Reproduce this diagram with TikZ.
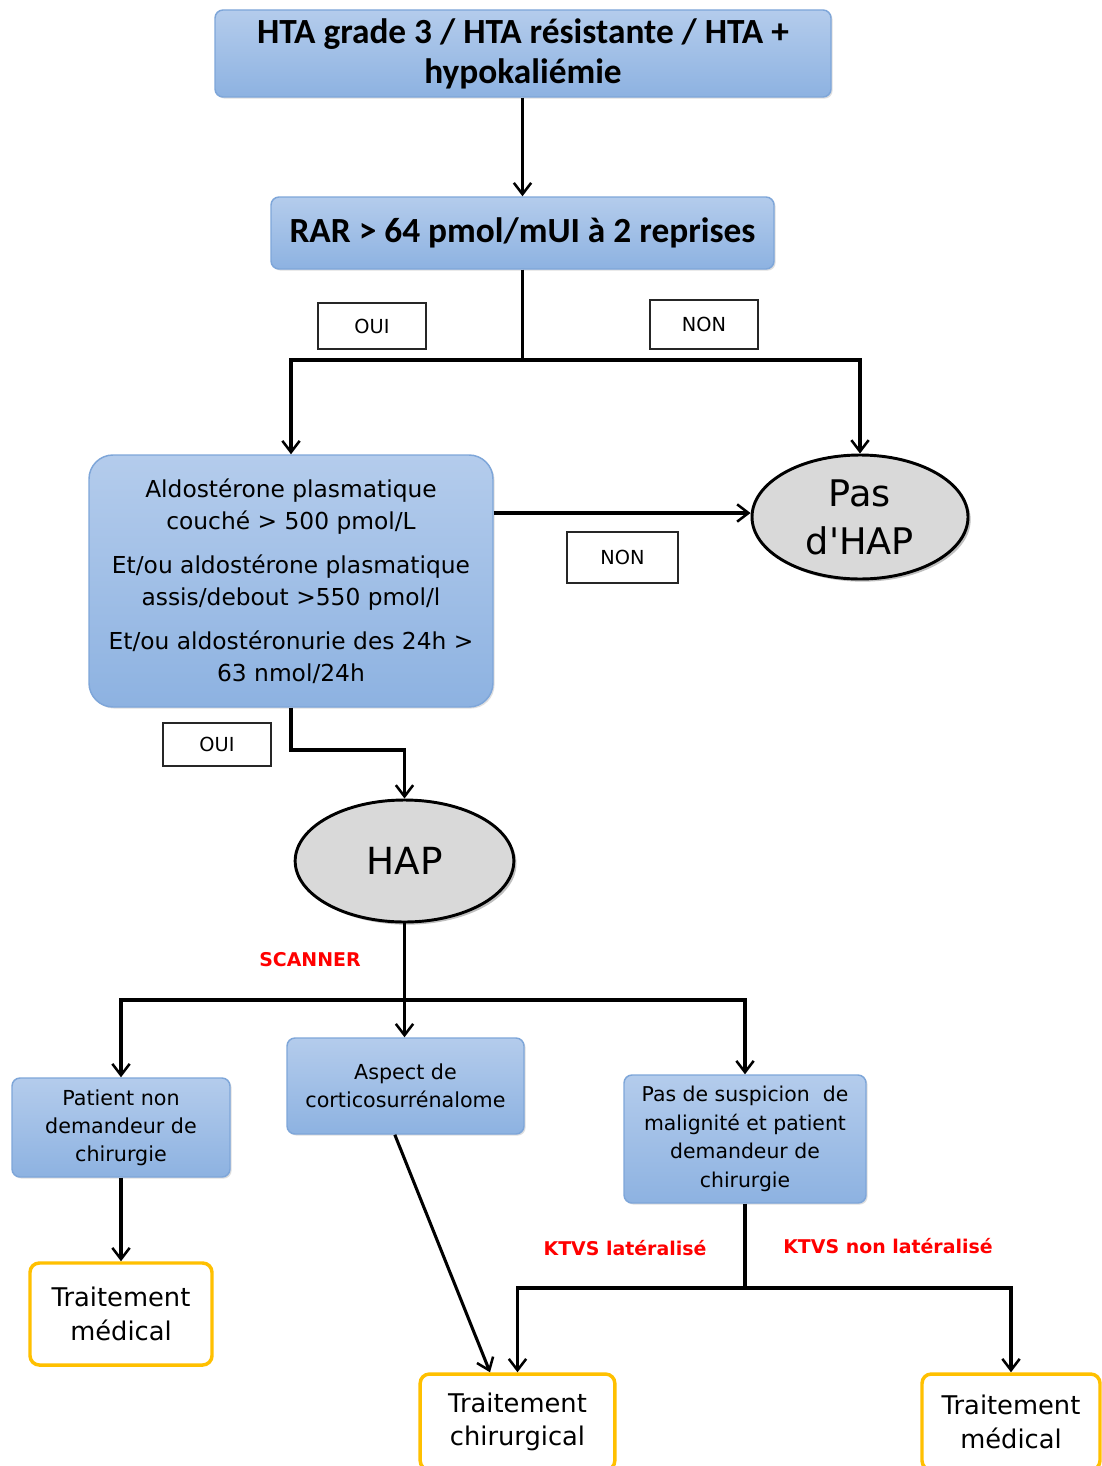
\documentclass[tikz,border=0pt]{standalone}
\usepackage{fontspec}
\setmainfont{DejaVu Sans}
\newfontfamily\calfont{Carlito}
\usetikzlibrary{arrows.meta,shapes.geometric,shadows}
\definecolor{bluetop}{HTML}{B4CCEC}
\definecolor{bluebot}{HTML}{8DB2E1}
\definecolor{blueedge}{HTML}{7EA6D9}
\definecolor{gold}{HTML}{FFC000}
\definecolor{ellgray}{HTML}{D9D9D9}
\tikzset{
  bluebox/.style={rectangle, rounded corners=6pt, draw=blueedge, line width=1.1pt,
    top color=bluetop, bottom color=bluebot, align=center, inner sep=2pt,
    drop shadow={shadow xshift=1.2pt, shadow yshift=-1.2pt, opacity=0.25}},
  goldbox/.style={rectangle, rounded corners=7pt, draw=gold, line width=2.6pt,
    fill=white, align=center, inner sep=2pt},
  ellnode/.style={ellipse, draw=black, line width=2.2pt, fill=ellgray, align=center,
    inner sep=0pt,
    drop shadow={shadow xshift=2pt, shadow yshift=-2pt, opacity=0.5}},
  lab/.style={rectangle, draw=black!85, line width=1.4pt, fill=white, font=\fontsize{14.5}{16}\selectfont},
  redlab/.style={text=red, font=\bfseries\fontsize{14.2}{17}\selectfont},
  ln/.style={line width=2.3pt, draw=black},
  arr/.style={ln, -{Straight Barb[length=8.5pt,width=13pt,line width=1.9pt]}},
}
\begin{document}
\begin{tikzpicture}[x=0.75pt,y=-0.75pt]
\useasboundingbox (0,0) rectangle (1101,1466);
\fill[white] (0,0) rectangle (1101,1466);

% nodes
\node[bluebox, minimum width=462pt, minimum height=65.25pt,
  font=\calfont\bfseries\fontsize{26.5}{30}\selectfont] (top) at (523,53.5)
  {HTA grade 3 / HTA résistante / HTA +\\hypokaliémie};
\node[bluebox, minimum width=377.25pt, minimum height=54pt,
  font=\calfont\bfseries\fontsize{26.5}{30}\selectfont] (rar) at (522.5,233)
  {RAR > 64 pmol/mUI à 2 reprises};
\node[bluebox, rounded corners=18pt, minimum width=303pt, minimum height=189pt,
  font=\fontsize{17.5}{24}\selectfont] (aldo) at (291,581)
  {Aldostérone plasmatique\\couché > 500 pmol/L\\[9pt]
   Et/ou aldostérone plasmatique\\assis/debout >550 pmol/l\\[9pt]
   Et/ou aldostéronurie des 24h >\\63 nmol/24h};
\node[ellnode, minimum width=162pt, minimum height=93pt,
  font=\fontsize{27.5}{36}\selectfont] (pas) at (860,517) {Pas\\d\textquotesingle HAP};
\node[ellnode, minimum width=164pt, minimum height=91.5pt,
  font=\fontsize{28}{32}\selectfont] (hap) at (404.5,861) {HAP};
\node[bluebox, minimum width=163.5pt, minimum height=74.25pt,
  font=\fontsize{15.5}{21}\selectfont] (pat) at (121,1127.5)
  {Patient non\\demandeur de\\chirurgie};
\node[bluebox, minimum width=177.75pt, minimum height=72pt,
  font=\fontsize{15.5}{21}\selectfont] (asp) at (405.5,1086)
  {Aspect de\\corticosurrénalome};
\node[bluebox, minimum width=181.5pt, minimum height=96pt,
  font=\fontsize{15.3}{21.5}\selectfont] (pds) at (745,1139)
  {Pas de suspicion~ de\\malignité et patient\\demandeur de\\chirurgie};
\node[goldbox, minimum width=136.5pt, minimum height=76.5pt,
  font=\fontsize{19.3}{25}\selectfont] (tm1) at (121,1314)
  {Traitement\\médical};
\node[goldbox, minimum width=146pt, minimum height=72pt,
  font=\fontsize{19.3}{25}\selectfont] (tc) at (517.5,1422)
  {Traitement\\chirurgical};
\node[goldbox, minimum width=133.5pt, minimum height=72pt,
  font=\fontsize{19.3}{25}\selectfont] (tm2) at (1011,1422)
  {Traitement\\médical};

% labels
\node[lab, minimum width=81pt, minimum height=34.5pt] (oui1) at (372,326) {OUI};
\node[lab, minimum width=81pt, minimum height=36.75pt] (non1) at (704,324.5) {NON};
\node[lab, minimum width=83.25pt, minimum height=38.25pt] (non2) at (622.5,557.5) {NON};
\node[lab, minimum width=81pt, minimum height=32.25pt] (oui2) at (217,744.5) {OUI};
\node[redlab] (scan) at (310,960) {SCANNER};
\node[redlab] (ktl) at (625,1248) {KTVS latéralisé};
\node[redlab] (ktnl) at (888,1246) {KTVS non latéralisé};

% junctions
\coordinate (j1) at (522.5,360);
\coordinate (j2) at (405,1000);
\coordinate (j3) at (745,1288);
\coordinate (k1) at (291,750);

% connectors
\draw[arr] (top.south -| rar.north) -- (rar.north);
\draw[ln] (rar.south) -- (j1);
\draw[arr] (j1) -| (aldo.north);
\draw[arr] (j1) -| (pas.north);
\draw[arr] (aldo.east |- 0,513) -- (pas.west |- 0,513);
\draw[arr] (aldo.south) -- (k1) -| (hap.north);
\draw[arr] (hap.south) -- (asp.north -| hap.south);
\draw[arr] (j2) -| (pat.north);
\draw[arr] (j2) -| (pds.north);
\draw[arr] (pat.south) -- (tm1.north);
\draw[arr] ([xshift=-8pt]asp.south) -- ([xshift=-20.6pt]tc.north);
\draw[ln] (pds.south) -- (j3);
\draw[arr] (j3) -| (tc.north);
\draw[arr] (j3) -| (tm2.north);
\end{tikzpicture}
\end{document}
